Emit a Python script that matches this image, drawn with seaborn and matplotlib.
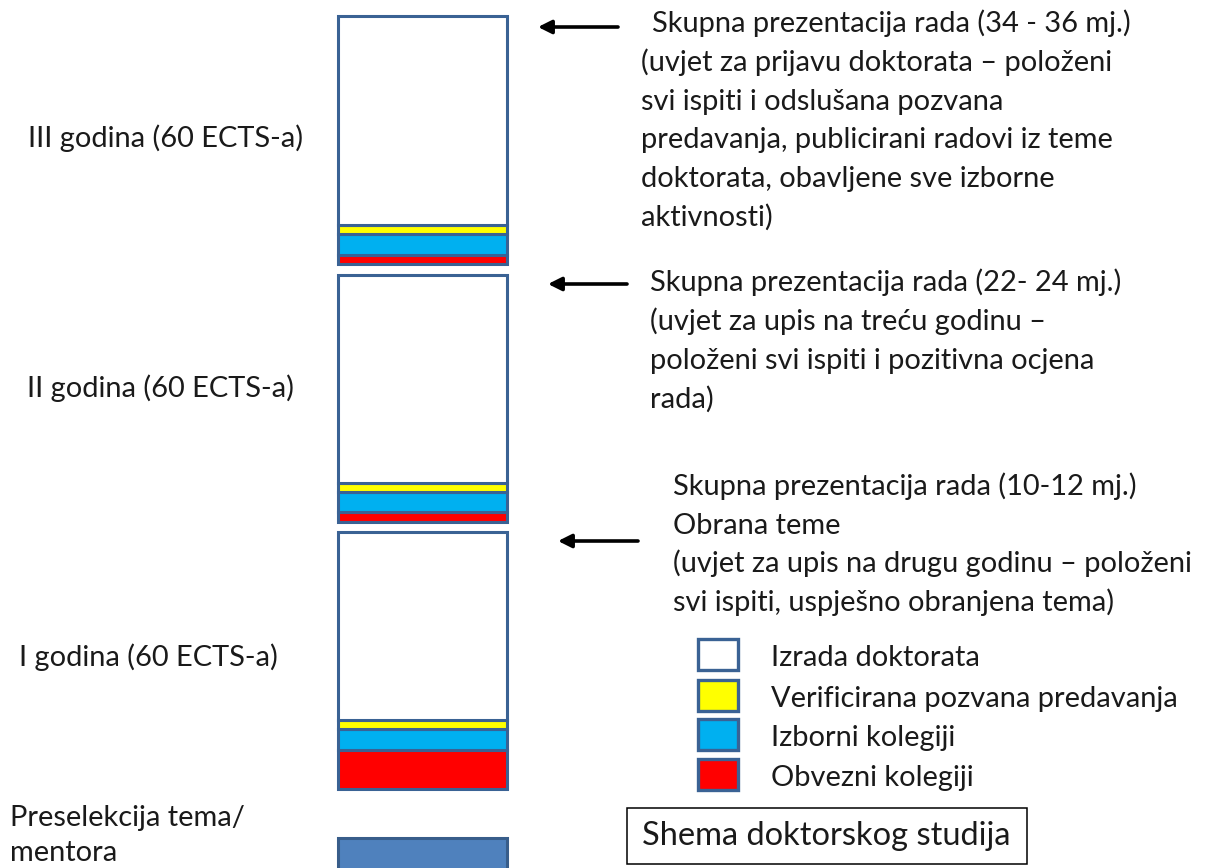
import numpy as np
import matplotlib.pyplot as plt
import seaborn as sns
from matplotlib.patches import Rectangle

# blocks per year, segments listed from the bottom up
years = ["I godina (60 ECTS-a)", "II godina (60 ECTS-a)", "III godina (60 ECTS-a)"]
segments = ["Obvezni kolegiji", "Izborni kolegiji",
            "Verificirana pozvana predavanja", "Izrada doktorata"]
obvezni = [39, 10, 9]
izborni = [21, 20, 21]
verificirana = [9, 9, 9]
izrada = [188, 208, 209]
preselekcija = 42

notes_iii = ["Skupna prezentacija rada (34 - 36 mj.)",
             "(uvjet za prijavu doktorata \u2013 polo\u017eeni",
             "svi ispiti i odslu\u0161ana pozvana",
             "predavanja, publicirani radovi iz teme",
             "doktorata, obavljene sve izborne",
             "aktivnosti)"]
notes_ii = ["Skupna prezentacija rada (22- 24 mj.)",
            "(uvjet za upis na tre\u0107u godinu \u2013",
            "polo\u017eeni svi ispiti i pozitivna ocjena",
            "rada)"]
notes_i = ["Skupna prezentacija rada (10-12 mj.)",
           "Obrana teme",
           "(uvjet za upis na drugu godinu \u2013 polo\u017eeni",
           "svi ispiti, uspje\u0161no obranjena tema)"]

seg_colors = ["#FF0000", "#00B0F0", "#FFFF00", "#FFFFFF"]
edge = "#3A6294"
txt = "#1a1a1a"

sns.set_theme(style="white")
plt.rcParams['font.family'] = ['Lato', 'DejaVu Sans']

W, H = 1206, 868
fig = plt.figure(figsize=(W / 100, H / 100), dpi=100)
ax = fig.add_axes([0, 0, 1, 1])

def py(p):
    # pixel row from the top -> y coordinate
    return H - p

bar_x = 422.7
bar_w = 169
block_bottoms = [79, 346, 604]

values = np.array([obvezni, izborni, verificirana, izrada])
for i, year in enumerate(years):
    b = block_bottoms[i]
    for j, seg in enumerate(segments):
        h = values[j, i]
        sns.barplot(x=[bar_x], y=[h], bottom=b, native_scale=True, width=bar_w,
                    orient="x", color=seg_colors[j], saturation=1, errorbar=None,
                    edgecolor=edge, linewidth=2.2, ax=ax)
        b += h

# preselection block at the bottom (runs off the page)
sns.barplot(x=[bar_x], y=[preselekcija], bottom=-12, native_scale=True, width=bar_w,
            orient="x", color="#4F81BD", saturation=1, errorbar=None,
            edgecolor="#385D8A", linewidth=2.2, ax=ax)

fs = 20.9
# year labels
ax.text(28, py(147), years[2], fontsize=fs, color=txt, va="baseline")
ax.text(27, py(397), years[1], fontsize=fs, color=txt, va="baseline")
ax.text(19, py(666), years[0], fontsize=fs, color=txt, va="baseline")
ax.text(10, py(826), "Preselekcija tema/", fontsize=fs, color=txt, va="baseline")
ax.text(10, py(861), "mentora", fontsize=fs, color=txt, va="baseline")

# notes with arrows
def notes(lines, x0, y0, step, first_x=None):
    for k, line in enumerate(lines):
        x = first_x if (k == 0 and first_x is not None) else x0
        ax.text(x, py(y0 + k * step), line, fontsize=fs, color=txt, va="baseline")

notes(notes_iii, 641, 32, 38.8, first_x=652)
notes(notes_ii, 650, 291, 39)
notes(notes_i, 673, 495, 38.5)

arrow_kw = dict(arrowstyle="-|>", lw=2.6, color="black", mutation_scale=20,
                shrinkA=0, shrinkB=0)
ax.annotate("", xy=(538, py(27)), xytext=(618, py(27)), arrowprops=arrow_kw)
ax.annotate("", xy=(548, py(284)), xytext=(627, py(284)), arrowprops=arrow_kw)
ax.annotate("", xy=(558, py(541)), xytext=(638, py(541)), arrowprops=arrow_kw)

# legend
leg_tops = [639, 680, 719, 759]
for k, seg in enumerate(segments[::-1]):
    c = seg_colors[::-1][k]
    top = leg_tops[k]
    ax.add_patch(Rectangle((698, py(top + 31)), 40, 31, facecolor=c,
                           edgecolor=edge, linewidth=2.4))
    ax.text(771, py(top + 27), seg, fontsize=fs, color=txt, va="baseline")

# title box
ax.add_patch(Rectangle((627, py(864)), 400, 56, facecolor="white",
                       edgecolor="black", linewidth=1.1))
ax.text(826, py(836), "Shema doktorskog studija", fontsize=23.5, color=txt,
        ha="center", va="center")

ax.set_xlim(0, W)
ax.set_ylim(0, H)
ax.axis("off")

fig.savefig("out.png", dpi=100)
